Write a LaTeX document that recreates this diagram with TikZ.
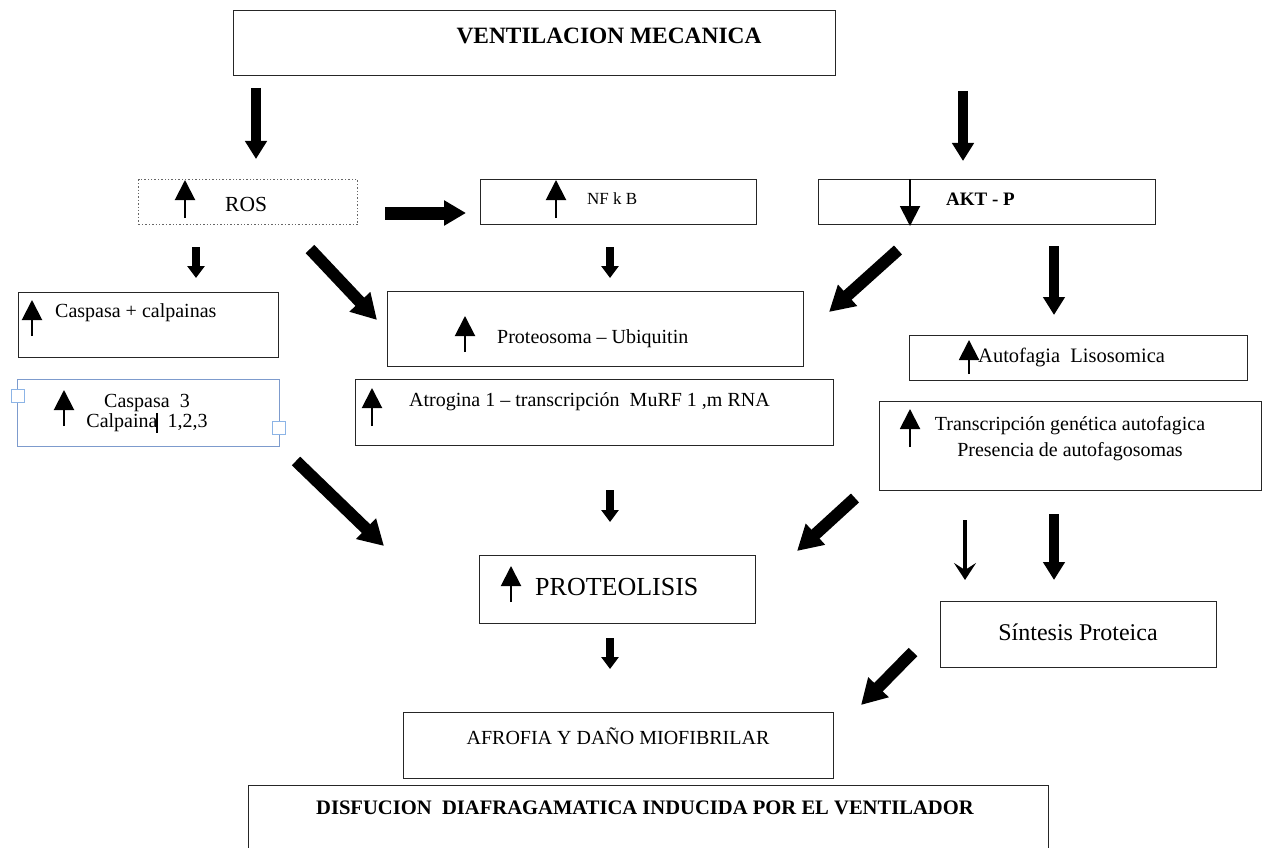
\documentclass[tikz,border=0pt]{standalone}
\usepackage{fontspec}
\setmainfont{Liberation Serif}
\usetikzlibrary{arrows.meta}
\definecolor{selblue}{RGB}{125,155,205}
\definecolor{handleblue}{RGB}{140,180,230}
\begin{document}
\begin{tikzpicture}[x=1pt,y=-1pt,
  box/.style={draw=black!85,line width=1.4pt,anchor=north west,inner sep=0pt},
  txt/.style={inner sep=0pt,anchor=west,font=\fontsize{20}{24}\selectfont},
  ctxt/.style={inner sep=0pt,anchor=center,align=center},
  uparr/.style={line width=2pt,-{Triangle[width=20pt,length=20pt]}},
  bigarr/.style={line width=10pt,-{Triangle[width=21pt,length=18pt]}},
  smallarr/.style={line width=8pt,-{Triangle[width=17pt,length=12pt]}},
  diagarr/.style={line width=12pt,-{Triangle[width=27pt,length=25pt]}},
  handle/.style={draw=handleblue,fill=white,line width=1pt,minimum size=13pt,inner sep=0pt}
]
\useasboundingbox (0,0) rectangle (1263,848);
\fill[white] (0,0) rectangle (1263,848);

% boxes
\node[box,minimum width=602pt,minimum height=65pt] (vm) at (233,10) {};
\node[box,draw=black!60,dotted,line width=1.2pt,minimum width=219pt,minimum height=45pt] (ros) at (138,179) {};
\node[box,minimum width=276pt,minimum height=45pt] (nfkb) at (480,179) {};
\node[box,minimum width=337pt,minimum height=45pt] (akt) at (818,179) {};
\node[box,minimum width=260pt,minimum height=65pt] (casp) at (18,292) {};
\node[box,draw=selblue,line width=1.1pt,minimum width=262pt,minimum height=67pt] (casp3) at (17,379) {};
\node[box,minimum width=416pt,minimum height=75pt] (prot) at (387,291) {};
\node[box,minimum width=478pt,minimum height=66pt] (atro) at (355,379) {};
\node[box,minimum width=338pt,minimum height=45pt] (auto) at (909,335) {};
\node[box,minimum width=382pt,minimum height=89pt] (trans) at (879,401) {};
\node[box,minimum width=276pt,minimum height=68pt] (proteo) at (479,555) {};
\node[box,minimum width=276pt,minimum height=66pt] (sint) at (940,601) {};
\node[box,minimum width=430pt,minimum height=66pt] (afro) at (403,712) {};
\node[box,minimum width=800pt,minimum height=90pt] (dis) at (248,785) {};

% selection handles
\node[handle] (h1) at (17.5,396) {};
\node[handle] (h2) at (278.5,428) {};

% texts
\node[ctxt,font=\bfseries\fontsize{23.4}{27}\selectfont] (tvm) at (609,36) {VENTILACION MECANICA};
\node[txt,font=\fontsize{21.5}{26}\selectfont] (tros) at (225,204) {ROS};
\node[txt,font=\fontsize{17}{20}\selectfont] (tnf) at (587,199) {NF k B};
\node[txt,font=\bfseries\fontsize{19}{22}\selectfont] (takt) at (946,199) {AKT - P};
\node[txt] (tcasp) at (55,313) {Caspasa + calpainas};
\node[ctxt,font=\fontsize{20}{20}\selectfont] (tcasp3) at (147,413) {Caspasa\ \ 3\\Calpaina\ \ 1,2,3};
\node[txt] (tprot) at (497,339) {Proteosoma -- Ubiquitin};
\node[txt] (tatro) at (409,402) {Atrogina 1 -- transcripción\ \ MuRF 1 ,m RNA};
\node[txt,font=\fontsize{20.5}{24}\selectfont] (tauto) at (978,357) {Autofagia\ \ Lisosomica};
\node[ctxt,font=\fontsize{20}{26}\selectfont] (ttrans) at (1070,439) {Transcripción genética autofagica\\Presencia de autofagosomas};
\node[txt,font=\fontsize{26}{30}\selectfont] (tproteo) at (535,587) {PROTEOLISIS};
\node[ctxt,font=\fontsize{24}{28}\selectfont] (tsint) at (1078,632) {Síntesis Proteica};
\node[ctxt,font=\fontsize{20}{24}\selectfont] (tafro) at (618,736) {AFROFIA Y DAÑO MIOFIBRILAR};
\node[ctxt,font=\bfseries\fontsize{20.6}{24}\selectfont] (tdis) at (645,808) {DISFUCION\ \ DIAFRAGAMATICA INDUCIDA POR EL VENTILADOR};

% text cursor
\coordinate (cur1) at (157,413);
\coordinate (cur2) at (157,433);
\draw[line width=1.2pt] (cur1) -- (cur2);

% small arrows inside boxes
\coordinate (u1a) at (185,218); \coordinate (u1b) at (185,180);
\draw[uparr] (u1a) -- (u1b);
\coordinate (u2a) at (556,218); \coordinate (u2b) at (556,180);
\draw[uparr] (u2a) -- (u2b);
\coordinate (u3a) at (910,179); \coordinate (u3b) at (910,226);
\draw[uparr] (u3a) -- (u3b);
\coordinate (u4a) at (32,336); \coordinate (u4b) at (32,300);
\draw[uparr] (u4a) -- (u4b);
\coordinate (u5a) at (64,426); \coordinate (u5b) at (64,390);
\draw[uparr] (u5a) -- (u5b);
\coordinate (u6a) at (465,352); \coordinate (u6b) at (465,316);
\draw[uparr] (u6a) -- (u6b);
\coordinate (u7a) at (372,426); \coordinate (u7b) at (372,388);
\draw[uparr] (u7a) -- (u7b);
\coordinate (u8a) at (969,374); \coordinate (u8b) at (969,340);
\draw[uparr] (u8a) -- (u8b);
\coordinate (u9a) at (910,447); \coordinate (u9b) at (910,409);
\draw[uparr] (u9a) -- (u9b);
\coordinate (u10a) at (511,602); \coordinate (u10b) at (511,566);
\draw[uparr] (u10a) -- (u10b);

% block arrows
\coordinate (a1s) at (256,88); \coordinate (a1e) at (256,159);
\draw[bigarr] (a1s) -- (a1e);
\coordinate (a2s) at (963,91); \coordinate (a2e) at (963,161);
\draw[bigarr] (a2s) -- (a2e);
\coordinate (a3s) at (385,213); \coordinate (a3e) at (466,213);
\draw[line width=13pt,-{Triangle[width=24pt,length=22pt]}] (a3s) -- (a3e);
\coordinate (a4s) at (196,247); \coordinate (a4e) at (196,278);
\draw[smallarr] (a4s) -- (a4e);
\coordinate (a5s) at (610,247); \coordinate (a5e) at (610,278);
\draw[smallarr] (a5s) -- (a5e);
\coordinate (a6s) at (1054,246); \coordinate (a6e) at (1054,315);
\draw[bigarr] (a6s) -- (a6e);
\coordinate (a7s) at (310,249); \coordinate (a7e) at (377,320);
\draw[diagarr] (a7s) -- (a7e);
\coordinate (a8s) at (898,250); \coordinate (a8e) at (829,312);
\draw[diagarr] (a8s) -- (a8e);
\coordinate (a9s) at (296,461); \coordinate (a9e) at (384,546);
\draw[diagarr] (a9s) -- (a9e);
\coordinate (a10s) at (610,490); \coordinate (a10e) at (610,522);
\draw[smallarr] (a10s) -- (a10e);
\coordinate (a11s) at (855,498); \coordinate (a11e) at (797,551);
\draw[diagarr] (a11s) -- (a11e);
\coordinate (a12s) at (965,520); \coordinate (a12e) at (965,580);
\draw[line width=4.5pt,-{Stealth[width=22pt,length=17pt,inset=7pt]}] (a12s) -- (a12e);
\coordinate (a13s) at (1054,514); \coordinate (a13e) at (1054,580);
\draw[bigarr] (a13s) -- (a13e);
\coordinate (a14s) at (610,638); \coordinate (a14e) at (610,669);
\draw[smallarr] (a14s) -- (a14e);
\coordinate (a15s) at (913,652); \coordinate (a15e) at (861,705);
\draw[diagarr] (a15s) -- (a15e);
\end{tikzpicture}
\end{document}
